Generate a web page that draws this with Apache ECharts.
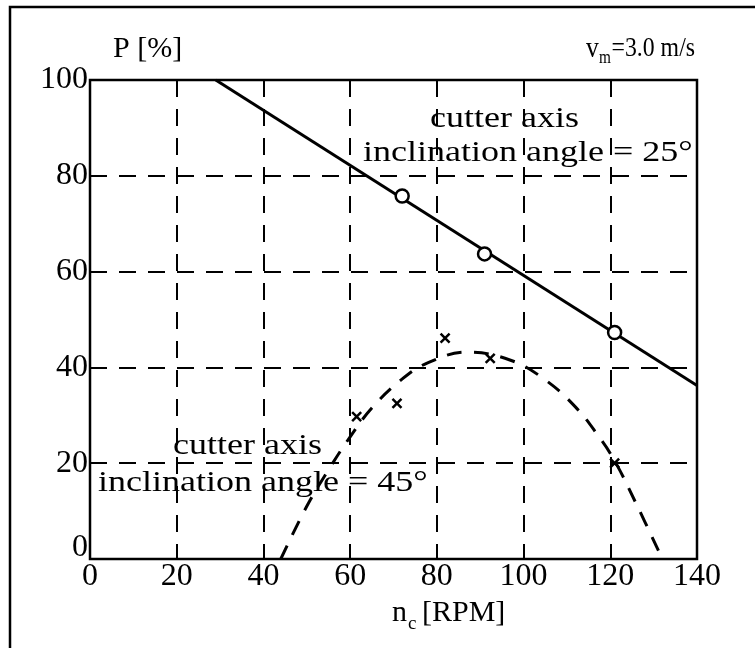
<!DOCTYPE html>
<html><head><meta charset="utf-8">
<script src="https://cdn.jsdelivr.net/npm/echarts@6/dist/echarts.min.js"></script>
<style>html,body{margin:0;padding:0;background:#fff}#c{width:755px;height:648px}</style>
</head><body><div id="c"></div>
<script>
// ---- data ----
const xTicks = [0, 20, 40, 60, 80, 100, 120, 140];
const yTicks = [0, 20, 40, 60, 80, 100];
// solid line (inclination 25°)
const line25X = [29, 140];
const line25P = [100, 36.2];
// open circle measurements (25°)
const circ25X = [72, 91, 121];
const circ25P = [75.8, 63.7, 47.3];
// dashed curve (inclination 45°)
const curve45X = [44, 50, 55, 60, 65, 71.5, 78, 87, 97, 105, 112, 117, 121, 126, 132];
const curve45P = [0, 11, 18.6, 25.5, 31.5, 37.2, 41, 43.2, 41.5, 37.4, 31.7, 26, 20.5, 11.5, 0];
// cross measurements (45°)
const cross45X = [61.5, 70.8, 81.9, 92.3, 121];
const cross45P = [29.7, 32.5, 46.1, 41.9, 20];

const zip = (a, b) => a.map((v, i) => [v, b[i]]);
const FONT = 'Liberation Serif';
const chart = echarts.init(document.getElementById('c'), null, {renderer: 'canvas'});
const crossPath = 'path://M0,0L10,10M10,0L0,10';
const ann = (text, x, y) => ({type: 'text', x: x, y: y, scaleX: 1.2,
  style: {text: text, font: '30px "Liberation Serif"', fill: '#000', textVerticalAlign: 'middle'}});

chart.setOption({
  backgroundColor: '#fff',
  animation: false,
  grid: {left: 90, top: 80, width: 607, height: 479, show: true, borderColor: '#000', borderWidth: 2.5, backgroundColor: 'transparent'},
  xAxis: {
    type: 'value', min: 0, max: 140, interval: 20,
    axisLine: {show: false}, axisTick: {show: false},
    axisLabel: {fontFamily: FONT, fontSize: 32, color: '#000', margin: 2},
    splitLine: {show: true, lineStyle: {color: '#000', width: 2, type: [17, 12]}}
  },
  yAxis: {
    type: 'value', min: 0, max: 100, interval: 20,
    axisLine: {show: false}, axisTick: {show: false},
    axisLabel: {
      fontFamily: FONT, fontSize: 32, color: '#000', margin: 2,
      formatter: v => v === 0 ? '{z|0}' : String(v),
      rich: {z: {fontFamily: FONT, fontSize: 32, color: '#000', padding: [0, 0, 22, 0]}}
    },
    splitLine: {show: true, lineStyle: {color: '#000', width: 2, type: [17, 12]}}
  },
  series: [
    {type: 'line', data: zip(line25X, line25P), symbol: 'none', lineStyle: {color: '#000', width: 3}, z: 3},
    {type: 'scatter', data: zip(circ25X, circ25P), symbol: 'circle', symbolSize: 13,
      itemStyle: {color: '#fff', borderColor: '#000', borderWidth: 2.5, opacity: 1}, z: 4},
    {type: 'line', data: zip(curve45X, curve45P), symbol: 'none', smooth: 0.4,
      lineStyle: {color: '#000', width: 3, type: [15, 12]}, z: 3},
    {type: 'scatter', data: zip(cross45X, cross45P), symbol: crossPath, symbolSize: 9,
      itemStyle: {color: 'none', borderColor: '#000', borderWidth: 2.5, opacity: 1}, z: 4}
  ],
  graphic: [
    {type: 'rect', shape: {x: 10, y: 7, width: 800, height: 700}, style: {fill: 'none', stroke: '#000', lineWidth: 2.5}, silent: true},
    {type: 'text', x: 113, y: 49, style: {text: 'P [%]', font: '30px "Liberation Serif"', fill: '#000', textVerticalAlign: 'middle'}},
    {type: 'text', x: 586, y: 49, scaleX: 0.85, style: {text: 'v', font: '30px "Liberation Serif"', fill: '#000', textVerticalAlign: 'middle'}},
    {type: 'text', x: 599, y: 58, scaleX: 0.85, style: {text: 'm', font: '18px "Liberation Serif"', fill: '#000', textVerticalAlign: 'middle'}},
    {type: 'text', x: 695, y: 49, scaleX: 0.85, style: {text: '=3.0 m/s', font: '28px "Liberation Serif"', fill: '#000', textVerticalAlign: 'middle', textAlign: 'right'}},
    ann('cutter axis', 430, 119),
    ann('inclination angle = 25°', 363, 153),
    ann('cutter axis', 173, 446),
    ann('inclination angle = 45°', 98, 483),
    {type: 'text', x: 392, y: 613, style: {text: 'n', font: '30px "Liberation Serif"', fill: '#000', textVerticalAlign: 'middle'}},
    {type: 'text', x: 408, y: 624, style: {text: 'c', font: '19px "Liberation Serif"', fill: '#000', textVerticalAlign: 'middle'}},
    {type: 'text', x: 422, y: 613, style: {text: '[RPM]', font: '30px "Liberation Serif"', fill: '#000', textVerticalAlign: 'middle'}}
  ]
});
</script></body></html>
